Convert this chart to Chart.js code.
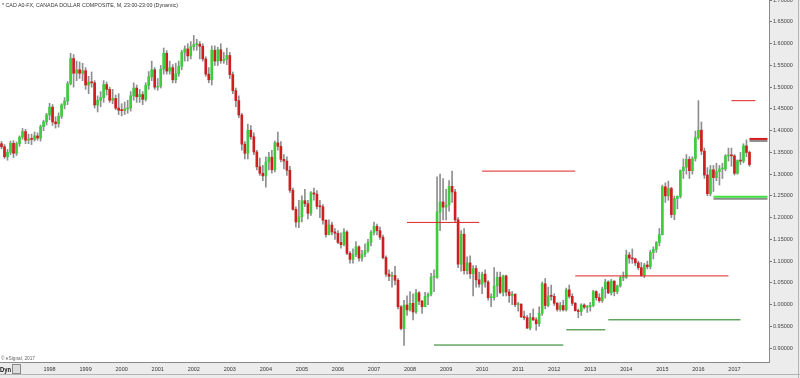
<!DOCTYPE html>
<html><head><meta charset="utf-8">
<script src="https://cdn.jsdelivr.net/npm/chart.js@4.4.0/dist/chart.umd.min.js"></script>
<style>
html,body{margin:0;padding:0;background:#ececec;overflow:hidden}
#wrap{position:relative;width:800px;height:378px}
canvas{position:absolute;left:0;top:0}
.txt{position:absolute;font-family:Arial,"Liberation Sans",sans-serif;white-space:nowrap;transform-origin:0 0;line-height:1}
#icon{position:absolute;left:12px;top:364px;width:7px;height:8px;border:1px solid #8a8a8a;background:#dcdcdc}
</style></head><body>
<div id="wrap">
<canvas id="c" width="800" height="378"></canvas>
<div class="txt" id="title" data-w="176" style="left:2px;top:2px;font-size:6px;color:#333">* CAD A0-FX, CANADA DOLLAR COMPOSITE, M, 23:00-23:00 (Dynamic)</div>
<div class="txt" id="copy" data-w="34" style="left:1px;top:356px;font-size:5px;color:#666">© eSignal, 2017</div>
<div class="txt" id="dyn" data-w="11" style="left:0px;top:366px;font-size:7px;font-weight:bold;color:#111">Dyn</div>
<div id="icon"></div>
</div>
<script>
// ---- data (monthly, Sep 1996 .. Jun 2017) ----
const opens = [
1.370,1.363,1.340,1.350,
1.371,1.348,1.370,1.385,1.398,1.378,1.381,1.380,1.388,1.383,1.409,1.420,
1.436,1.454,1.420,1.416,1.433,1.459,1.468,1.508,1.566,1.532,1.540,1.532,
1.538,1.505,1.512,1.510,1.459,1.470,1.476,1.506,1.495,1.470,1.474,1.452,
1.447,1.446,1.450,1.452,1.480,1.498,1.478,1.483,1.472,1.504,1.524,1.540,
1.500,1.502,1.541,1.578,1.537,1.545,1.517,1.531,1.548,1.580,1.588,1.572,
1.593,1.598,1.599,1.594,1.565,1.530,1.517,1.585,1.560,1.586,1.561,1.564,
1.573,1.529,1.492,1.469,1.436,1.369,1.348,1.401,1.386,1.351,1.317,1.302,
1.296,1.328,1.339,1.310,1.372,1.364,1.334,1.330,1.309,1.263,1.219,1.190,
1.202,1.239,1.232,1.210,1.257,1.254,1.226,1.225,1.194,1.161,1.183,1.167,
1.164,1.143,1.138,1.167,1.118,1.104,1.115,1.133,1.107,1.116,1.124,1.143,
1.166,1.180,1.170,1.155,1.108,1.070,1.065,1.067,1.056,0.995,0.945,0.999,
0.988,1.003,0.983,1.027,1.008,0.995,1.019,1.024,1.063,1.063,1.213,1.236,
1.224,1.229,1.272,1.259,1.195,1.093,1.162,1.078,1.096,1.071,1.083,1.057,
1.047,1.070,1.052,1.016,1.016,1.043,1.063,1.028,1.066,1.029,1.021,1.024,
1.000,1.001,0.972,0.970,0.946,0.970,0.965,0.956,0.980,1.048,0.998,1.020,
1.019,1.003,0.989,0.998,0.988,1.034,1.019,1.003,0.986,0.984,0.999,0.994,
0.995,0.998,1.030,1.016,1.009,1.036,1.052,1.027,1.054,1.030,1.043,1.062,
1.063,1.114,1.107,1.105,1.096,1.085,1.067,1.091,1.087,1.120,1.127,1.143,
1.161,1.271,1.250,1.267,1.207,1.244,1.249,1.308,1.316,1.334,1.308,1.336,
1.384,1.401,1.353,1.298,1.255,1.310,1.292,1.306,1.312,1.312,1.342,1.343,
1.342,1.302,1.331,1.330,1.365,1.350];
const highs = [
1.375,1.368,1.357,1.376,
1.377,1.374,1.388,1.405,1.403,1.392,1.392,1.397,1.395,1.413,1.424,1.440,
1.463,1.460,1.432,1.441,1.462,1.476,1.513,1.578,1.575,1.560,1.558,1.555,
1.545,1.525,1.535,1.515,1.480,1.490,1.515,1.512,1.500,1.495,1.482,1.485,
1.462,1.466,1.470,1.490,1.510,1.505,1.495,1.490,1.510,1.536,1.560,1.545,
1.520,1.550,1.590,1.584,1.560,1.552,1.555,1.560,1.585,1.595,1.600,1.605,
1.619,1.610,1.605,1.600,1.570,1.545,1.595,1.595,1.592,1.600,1.580,1.590,
1.580,1.535,1.498,1.480,1.440,1.375,1.415,1.412,1.395,1.355,1.337,1.320,
1.340,1.350,1.355,1.376,1.397,1.375,1.345,1.340,1.318,1.268,1.225,1.240,
1.250,1.265,1.240,1.260,1.268,1.262,1.240,1.230,1.195,1.195,1.190,1.175,
1.170,1.165,1.175,1.170,1.122,1.128,1.145,1.135,1.125,1.140,1.150,1.170,
1.190,1.185,1.178,1.160,1.112,1.080,1.075,1.088,1.060,0.998,1.010,1.020,
1.030,1.025,1.035,1.030,1.010,1.028,1.027,1.072,1.080,1.294,1.300,1.290,
1.265,1.285,1.307,1.265,1.200,1.170,1.175,1.110,1.112,1.090,1.090,1.075,
1.075,1.080,1.055,1.025,1.085,1.075,1.075,1.068,1.068,1.035,1.030,1.025,
1.005,1.002,0.985,0.975,0.980,0.990,0.970,0.995,1.052,1.060,1.040,1.045,
1.025,1.005,1.005,1.010,1.038,1.045,1.025,1.005,0.990,1.002,1.002,0.998,
1.005,1.033,1.032,1.025,1.040,1.058,1.055,1.058,1.055,1.045,1.065,1.075,
1.125,1.120,1.128,1.107,1.100,1.097,1.095,1.100,1.125,1.133,1.145,1.175,
1.275,1.280,1.284,1.270,1.250,1.250,1.310,1.335,1.345,1.340,1.340,1.399,
1.469,1.420,1.360,1.315,1.320,1.320,1.325,1.320,1.325,1.345,1.360,1.360,
1.345,1.333,1.350,1.370,1.379,1.353];
const lows = [
1.358,1.336,1.332,1.345,
1.338,1.343,1.364,1.380,1.370,1.370,1.368,1.376,1.378,1.376,1.400,1.413,
1.425,1.412,1.406,1.408,1.428,1.450,1.460,1.505,1.500,1.515,1.520,1.515,
1.495,1.485,1.500,1.452,1.443,1.455,1.465,1.482,1.465,1.462,1.448,1.437,
1.434,1.437,1.440,1.445,1.470,1.465,1.465,1.460,1.468,1.495,1.515,1.495,
1.493,1.498,1.530,1.530,1.530,1.510,1.510,1.525,1.540,1.560,1.560,1.565,
1.585,1.585,1.565,1.560,1.525,1.510,1.505,1.550,1.550,1.555,1.555,1.552,
1.520,1.485,1.455,1.430,1.355,1.335,1.335,1.380,1.345,1.310,1.297,1.285,
1.270,1.310,1.302,1.305,1.355,1.328,1.312,1.297,1.258,1.217,1.178,1.177,
1.190,1.225,1.197,1.205,1.240,1.220,1.200,1.185,1.155,1.160,1.160,1.150,
1.140,1.130,1.135,1.115,1.095,1.095,1.110,1.100,1.100,1.110,1.120,1.135,
1.160,1.160,1.150,1.105,1.065,1.055,1.040,1.045,0.990,0.942,0.906,0.975,
0.985,0.965,0.980,1.000,0.980,0.995,1.000,1.020,1.030,1.060,1.170,1.195,
1.195,1.215,1.235,1.190,1.085,1.077,1.070,1.070,1.060,1.020,1.040,1.040,
1.025,1.040,1.010,0.995,1.010,1.018,1.025,1.020,1.020,1.005,1.000,0.995,
0.985,0.970,0.965,0.945,0.942,0.963,0.941,0.950,0.975,0.990,0.995,1.010,
0.998,0.985,0.985,0.985,0.985,1.015,0.998,0.985,0.970,0.975,0.990,0.982,
0.985,0.995,1.010,1.005,1.005,1.015,1.025,1.022,1.020,1.025,1.040,1.055,
1.060,1.095,1.095,1.090,1.080,1.065,1.062,1.082,1.082,1.105,1.120,1.135,
1.160,1.235,1.240,1.200,1.195,1.220,1.245,1.290,1.300,1.290,1.300,1.330,
1.380,1.345,1.290,1.250,1.250,1.260,1.285,1.275,1.290,1.308,1.330,1.318,
1.298,1.300,1.322,1.326,1.340,1.318];
const closes = [
1.363,1.340,1.350,1.371,
1.348,1.370,1.385,1.398,1.378,1.381,1.380,1.388,1.383,1.409,1.420,1.436,
1.454,1.420,1.416,1.433,1.459,1.468,1.508,1.566,1.532,1.540,1.532,1.538,
1.505,1.512,1.510,1.459,1.470,1.476,1.506,1.495,1.470,1.474,1.452,1.447,
1.446,1.450,1.452,1.480,1.498,1.478,1.483,1.472,1.504,1.524,1.540,1.500,
1.502,1.541,1.578,1.537,1.545,1.517,1.531,1.548,1.580,1.588,1.572,1.593,
1.598,1.599,1.594,1.565,1.530,1.517,1.585,1.560,1.586,1.561,1.564,1.573,
1.529,1.492,1.469,1.436,1.369,1.348,1.401,1.386,1.351,1.317,1.302,1.296,
1.328,1.339,1.310,1.372,1.364,1.334,1.330,1.309,1.263,1.219,1.190,1.202,
1.239,1.232,1.210,1.257,1.254,1.226,1.225,1.194,1.161,1.183,1.167,1.164,
1.143,1.138,1.167,1.118,1.104,1.115,1.133,1.107,1.116,1.124,1.143,1.166,
1.180,1.170,1.155,1.108,1.070,1.065,1.067,1.056,0.995,0.945,0.999,0.988,
1.003,0.983,1.027,1.008,0.995,1.019,1.024,1.063,1.063,1.213,1.236,1.224,
1.229,1.272,1.259,1.195,1.093,1.162,1.078,1.096,1.071,1.083,1.057,1.047,
1.070,1.052,1.016,1.016,1.043,1.063,1.028,1.066,1.029,1.021,1.024,1.000,
1.001,0.972,0.970,0.946,0.970,0.965,0.956,0.980,1.048,0.998,1.020,1.019,
1.003,0.989,0.998,0.988,1.034,1.019,1.003,0.986,0.984,0.999,0.994,0.995,
0.998,1.030,1.016,1.009,1.036,1.052,1.027,1.054,1.030,1.043,1.062,1.063,
1.114,1.107,1.105,1.096,1.085,1.067,1.091,1.087,1.120,1.127,1.143,1.161,
1.271,1.250,1.267,1.207,1.244,1.249,1.308,1.316,1.334,1.308,1.336,1.384,
1.401,1.353,1.298,1.255,1.310,1.292,1.306,1.312,1.312,1.342,1.343,1.342,
1.302,1.331,1.330,1.365,1.350,1.322];

// drawn support / resistance levels
const levelValues = [1.189, 1.307, 0.907, 0.942, 0.965, 1.066, 1.469, 1.381, 1.248];
const levelStarts = ['2007-12','2010-01','2008-09','2012-05','2013-07','2012-08','2016-12','2017-06','2016-06'];
const levelEnds   = ['2009-12','2012-08','2012-04','2013-06','2017-03','2016-11','2017-08','2017-12','2017-12'];

// axis tick labels
const yearLabels = ['1998','1999','2000','2001','2002','2003','2004','2005','2006','2007','2008','2009','2010','2011','2012','2013','2014','2015','2016','2017'];
const yTicks = [0.90,0.95,1.00,1.05,1.10,1.15,1.20,1.25,1.30,1.35,1.40,1.45,1.50,1.55,1.60,1.65,1.70];

// category axis: months Sep 1996 .. Dec 2017
const months = [];
for (let y = 1996, m = 9; y < 2018;) { months.push(y + '-' + String(m).padStart(2, '0')); m++; if (m > 12) { m = 1; y++; } }

// ---- styles ----
const GREEN = '#3ccc3c', RED = '#cc1f1f', WICK = '#8e8e8e';
const levelLook = [
  {c:'#e02424', w:1}, {c:'#e02424', w:1}, {c:'#177a17', w:1}, {c:'#177a17', w:1}, {c:'#177a17', w:1},
  {c:'#e02424', w:1}, {c:'#e02424', w:1}, {c:'#d41a1a', w:2, s:true}, {c:'#3fe03f', w:2, s:true}
];

const levelSets = levelValues.map((v, i) => ({
  type: 'line',
  data: [{x: levelStarts[i], y: v}, {x: levelEnds[i], y: v}],
  borderColor: levelLook[i].c, borderWidth: levelLook[i].w,
  pointRadius: 0, fill: false, tension: 0, order: 0, shadow: !!levelLook[i].s
}));

const bgPlugin = {
  id: 'bg',
  beforeDraw(chart) {
    const {ctx, chartArea: a} = chart;
    ctx.save();
    ctx.fillStyle = '#ececec'; ctx.fillRect(0, 0, 800, 378);
    ctx.fillStyle = '#ffffff'; ctx.fillRect(a.left, a.top, a.right - a.left, a.bottom - a.top);
    ctx.strokeStyle = '#b4b4b4'; ctx.lineWidth = 1;
    ctx.beginPath(); ctx.moveTo(0, 374.5); ctx.lineTo(800, 374.5); ctx.stroke();
    ctx.beginPath(); ctx.moveTo(798.5, 0); ctx.lineTo(798.5, 378); ctx.stroke();
    ctx.restore();
  }
};
const shadowPlugin = {
  id: 'shadow',
  beforeDatasetDraw(chart, args) {
    if (chart.data.datasets[args.index].shadow) {
      const c = chart.ctx; c.save();
      c.shadowColor = 'rgba(90,90,90,0.7)'; c.shadowOffsetY = 2; c.shadowBlur = 0;
    }
  },
  afterDatasetDraw(chart, args) {
    if (chart.data.datasets[args.index].shadow) chart.ctx.restore();
  }
};

new Chart(document.getElementById('c'), {
  data: {
    labels: months,
    datasets: [
      ...levelSets,
      { type: 'bar', data: opens.map((o, i) => [o, closes[i]]),
        backgroundColor: closes.map((c, i) => c >= opens[i] ? GREEN : RED),
        barThickness: 2, grouped: false, minBarLength: 1, order: 1 },
      { type: 'bar', data: lows.map((l, i) => [l, highs[i]]),
        backgroundColor: WICK, barThickness: 1, grouped: false, order: 2 }
    ]
  },
  options: {
    responsive: false, animation: false, devicePixelRatio: 1,
    layout: { padding: 0 },
    plugins: { legend: { display: false }, tooltip: { enabled: false } },
    scales: {
      x: {
        type: 'category', offset: true,
        grid: { display: false, drawTicks: false },
        border: { display: true, color: '#8a8a8a' },
        ticks: {
          autoSkip: false, maxRotation: 0, minRotation: 0, padding: 4,
          font: { size: 5.5, family: 'Arial' }, color: '#333',
          callback: (v, i) => { const l = months[i]; return (l.endsWith('-01') && yearLabels.includes(l.slice(0, 4))) ? l.slice(0, 4) : ''; }
        },
        afterFit(s) { s.height = 16; s.paddingLeft = 0; s.paddingRight = 0; }
      },
      y: {
        position: 'right', min: 0.868, max: 1.7005,
        grid: { drawOnChartArea: false, tickLength: 3, color: '#777' },
        border: { color: '#8a8a8a' },
        ticks: { padding: 1, font: { size: 5.5, family: 'Arial' }, color: '#444', callback: v => Number(v).toFixed(5) },
        afterBuildTicks(s) { s.ticks = yTicks.map(v => ({ value: v })); },
        afterFit(s) { s.width = 31; s.paddingTop = 0; s.paddingBottom = 0; }
      }
    }
  },
  plugins: [bgPlugin, shadowPlugin]
});

document.querySelectorAll('.txt[data-w]').forEach(el => {
  const w = el.getBoundingClientRect().width;
  el.style.transform = 'scaleX(' + (parseFloat(el.dataset.w) / w) + ')';
});
</script>
</body></html>
